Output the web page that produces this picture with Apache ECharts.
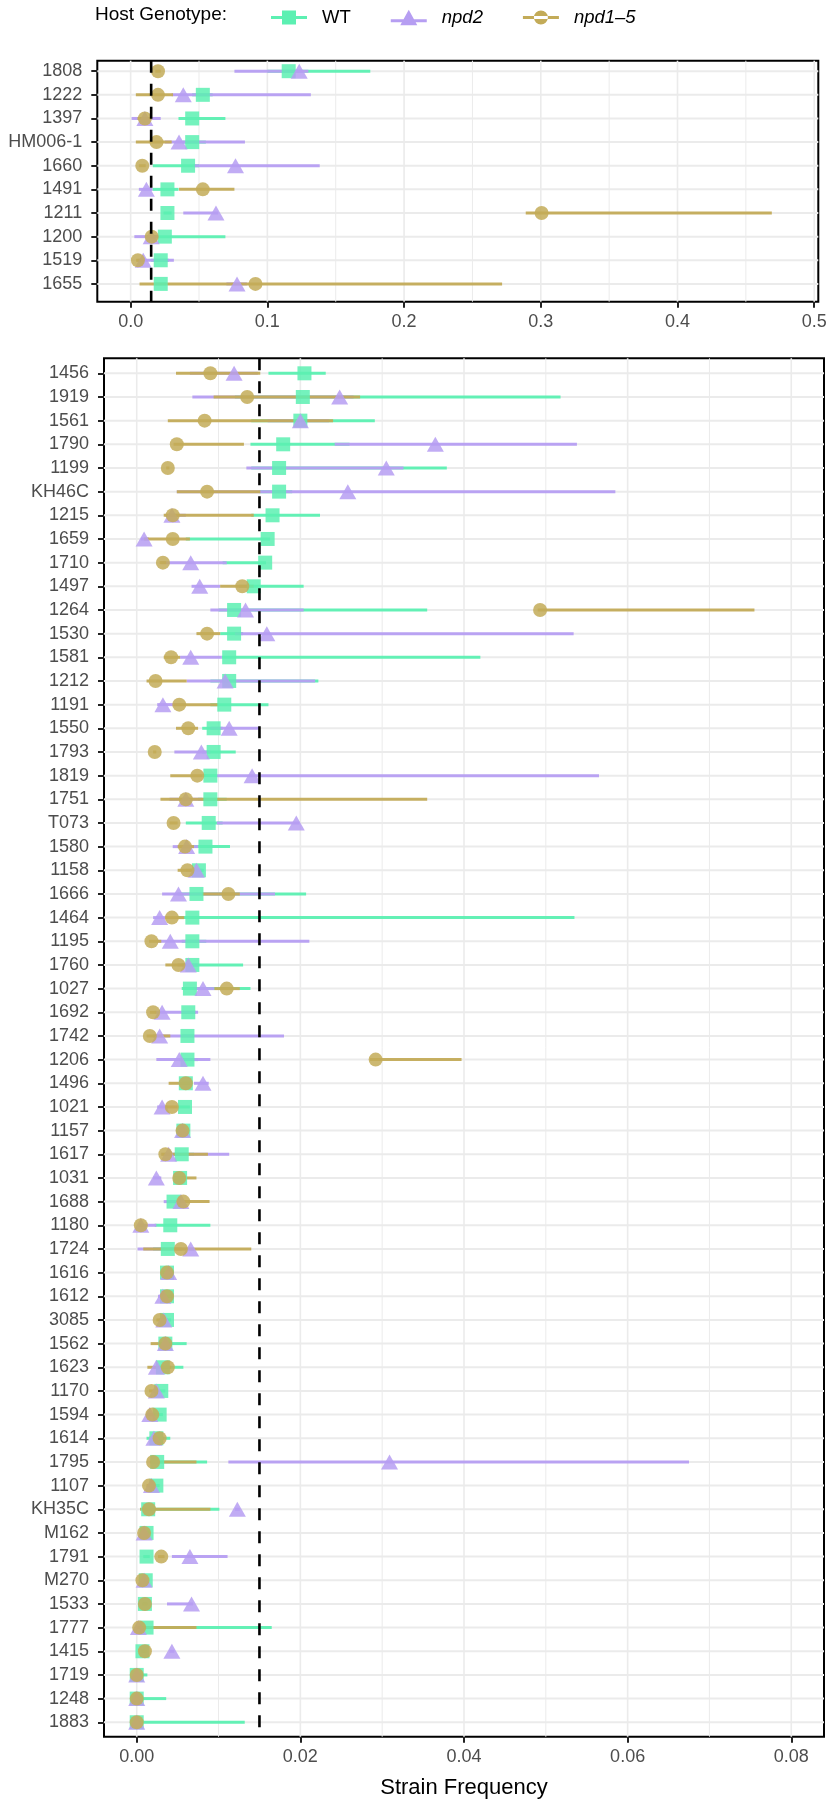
<!DOCTYPE html>
<html>
<head>
<meta charset="utf-8">
<script src="https://cdn.jsdelivr.net/npm/echarts@6/dist/echarts.min.js"></script>
<style>
html,body{margin:0;padding:0;background:#fff;}
#chart{width:826px;height:1802px;}
</style>
</head>
<body>
<div id="chart"></div>
<script>
// ---------------- DATA ----------------
const genotypes = ['WT', 'npd2', 'npd1–5'];
const thresholdValue = 0.015;

// Top panel
const topCats = ['1808','1222','1397','HM006-1','1660','1491','1211','1200','1519','1655'];
const topWT     = [0.1156, 0.0528, 0.045, 0.045, 0.042, 0.0269, 0.0269, 0.025, 0.022, 0.022];
const topWTLo   = [0.100, 0.045, 0.035, 0.038, 0.0162, 0.016, 0.024, 0.015, 0.015, 0.018];
const topWTHi   = [0.1753, 0.060, 0.0693, 0.055, 0.050, 0.035, 0.030, 0.0693, 0.028, 0.026];
const topNpd2   = [0.1233, 0.0385, 0.0104, 0.0354, 0.0767, 0.0115, 0.0624, 0.015, 0.0092, 0.0778];
const topNpd2Lo = [0.0759, 0.030, 0.0007, 0.025, 0.046, 0.006, 0.0385, 0.0027, 0.005, 0.070];
const topNpd2Hi = [0.130, 0.1318, 0.022, 0.0836, 0.1383, 0.016, 0.064, 0.020, 0.0316, 0.085];
const topNpd15   = [0.020, 0.020, 0.0104, 0.0189, 0.0085, 0.0528, 0.3006, 0.0154, 0.0053, 0.0913];
const topNpd15Lo = [0.018, 0.0038, 0.005, 0.0038, 0.006, 0.0354, 0.289, 0.012, 0.004, 0.0065];
const topNpd15Hi = [0.022, 0.031, 0.015, 0.030, 0.011, 0.0759, 0.469, 0.018, 0.007, 0.2717];
const topTicks = [0, 0.1, 0.2, 0.3, 0.4, 0.5];
const topTickLabels = ['0.0','0.1','0.2','0.3','0.4','0.5'];
const topMinorTicks = [0.05, 0.15, 0.25, 0.35, 0.45];

// Bottom panel
const botCats = ['1456','1919','1561','1790','1199','KH46C','1215','1659','1710','1497',
  '1264','1530','1581','1212','1191','1550','1793','1819','1751','T073',
  '1580','1158','1666','1464','1195','1760','1027','1692','1742','1206',
  '1496','1021','1157','1617','1031','1688','1180','1724','1616','1612',
  '3085','1562','1623','1170','1594','1614','1795','1107','KH35C','M162',
  '1791','M270','1533','1777','1415','1719','1248','1883'];
const botWT = [0.0205,0.0203,0.0200,0.0179,0.0174,0.0174,0.0166,0.0160,0.0157,0.0143,
  0.0119,0.0119,0.0113,0.0113,0.0107,0.0094,0.0094,0.0090,0.0090,0.0088,
  0.0084,0.0076,0.0073,0.0068,0.0068,0.0068,0.0065,0.0063,0.0062,0.0062,
  0.0060,0.0059,0.0057,0.0055,0.0053,0.0045,0.0041,0.0038,0.0037,0.0037,
  0.0037,0.0035,0.0032,0.0030,0.0028,0.0024,0.0025,0.0024,0.0014,0.0012,
  0.0012,0.0011,0.0010,0.0012,0.0007,0.0000,0.0000,0.0000];
const botWTLo = [0.0161,0.0120,0.0140,0.0139,0.0140,0.0150,0.0140,0.0060,0.0105,0.0125,
  0.0100,0.0102,0.0104,0.0090,0.0090,0.0080,0.0080,0.0080,0.0075,0.0060,
  0.0065,0.0065,0.0050,0.0050,0.0055,0.0055,0.0055,0.0055,0.0055,0.0052,
  0.0055,0.0050,0.0050,0.0045,0.0045,0.0040,0.0022,0.0020,0.0030,0.0030,
  0.0030,0.0030,0.0027,0.0025,0.0023,0.0012,0.0020,0.0020,0.0010,0.0008,
  0.0008,0.0008,0.0007,0.0008,0.0005,0.0000,0.0000,0.0000];
const botWTHi = [0.0231,0.0518,0.0291,0.0260,0.0379,0.0190,0.0224,0.0163,0.0158,0.0204,
  0.0355,0.0130,0.0420,0.0222,0.0161,0.0105,0.0121,0.0098,0.0110,0.0105,
  0.0114,0.0082,0.0207,0.0535,0.0085,0.0130,0.0139,0.0072,0.0070,0.0075,
  0.0068,0.0065,0.0062,0.0070,0.0060,0.0055,0.0090,0.0055,0.0045,0.0044,
  0.0042,0.0061,0.0057,0.0035,0.0032,0.0041,0.0086,0.0028,0.0101,0.0016,
  0.0016,0.0014,0.0013,0.0165,0.0010,0.0013,0.0036,0.0132];
const botNpd2 = [0.0119,0.0248,0.0200,0.0365,0.0305,0.0258,0.0043,0.0009,0.0066,0.0077,
  0.0133,0.0159,0.0066,0.0108,0.0032,0.0113,0.0079,0.0141,0.0060,0.0195,
  0.0061,0.0073,0.0051,0.0028,0.0041,0.0063,0.0081,0.0031,0.0028,0.0052,
  0.0081,0.0031,0.0056,0.0039,0.0024,0.0054,0.0005,0.0066,0.0039,0.0032,
  0.0033,0.0035,0.0024,0.0024,0.0016,0.0021,0.0309,0.0018,0.0123,0.0009,
  0.0065,0.0009,0.0067,0.0002,0.0043,0.0000,0.0000,0.0000];
const botNpd2Lo = [0.0065,0.0068,0.0160,0.0242,0.0134,0.0049,0.0035,0.0005,0.0030,0.0067,
  0.0090,0.0120,0.0053,0.0061,0.0025,0.0090,0.0046,0.0098,0.0040,0.0098,
  0.0044,0.0060,0.0031,0.0020,0.0025,0.0050,0.0070,0.0022,0.0020,0.0024,
  0.0070,0.0025,0.0048,0.0030,0.0020,0.0033,0.0002,0.0001,0.0032,0.0026,
  0.0027,0.0030,0.0020,0.0020,0.0012,0.0015,0.0112,0.0014,0.0120,0.0005,
  0.0043,0.0006,0.0037,0.0001,0.0040,0.0000,0.0000,0.0000];
const botNpd2Hi = [0.0148,0.0265,0.0235,0.0538,0.0326,0.0585,0.0060,0.0015,0.0110,0.0102,
  0.0204,0.0534,0.0104,0.0218,0.0060,0.0150,0.0090,0.0565,0.0080,0.0199,
  0.0075,0.0080,0.0169,0.0035,0.0211,0.0075,0.0095,0.0075,0.0180,0.0090,
  0.0088,0.0038,0.0060,0.0113,0.0030,0.0060,0.0024,0.0070,0.0045,0.0038,
  0.0038,0.0040,0.0030,0.0028,0.0020,0.0027,0.0675,0.0022,0.0126,0.0013,
  0.0111,0.0012,0.0069,0.0004,0.0046,0.0003,0.0003,0.0003];
const botNpd15 = [0.0090,0.0135,0.0083,0.0049,0.0038,0.0086,0.0044,0.0044,0.0032,0.0129,
  0.0493,0.0086,0.0042,0.0023,0.0052,0.0063,0.0022,0.0074,0.0060,0.0045,
  0.0059,0.0062,0.0112,0.0043,0.0018,0.0051,0.0110,0.0020,0.0016,0.0292,
  0.0060,0.0043,0.0056,0.0035,0.0052,0.0057,0.0005,0.0054,0.0037,0.0037,
  0.0028,0.0035,0.0038,0.0018,0.0019,0.0028,0.0020,0.0015,0.0015,0.0009,
  0.0030,0.0007,0.0010,0.0003,0.0010,0.0000,0.0000,0.0000];
const botNpd15Lo = [0.0048,0.0094,0.0038,0.0045,0.0036,0.0049,0.0033,0.0009,0.0028,0.0102,
  0.0490,0.0073,0.0033,0.0012,0.0045,0.0048,0.0020,0.0041,0.0029,0.0040,
  0.0050,0.0050,0.0080,0.0035,0.0015,0.0035,0.0095,0.0016,0.0012,0.0285,
  0.0039,0.0035,0.0050,0.0030,0.0045,0.0050,0.0003,0.0008,0.0030,0.0030,
  0.0024,0.0017,0.0013,0.0015,0.0015,0.0022,0.0016,0.0012,0.0004,0.0006,
  0.0026,0.0005,0.0007,0.0001,0.0007,0.0000,0.0000,0.0000];
const botNpd15Hi = [0.0151,0.0273,0.0240,0.0131,0.0040,0.0151,0.0143,0.0065,0.0036,0.0143,
  0.0755,0.0102,0.0053,0.0061,0.0100,0.0075,0.0024,0.0080,0.0355,0.0050,
  0.0070,0.0068,0.0126,0.0058,0.0030,0.0060,0.0126,0.0024,0.0041,0.0397,
  0.0065,0.0050,0.0060,0.0087,0.0073,0.0089,0.0008,0.0140,0.0043,0.0043,
  0.0032,0.0040,0.0042,0.0022,0.0023,0.0033,0.0073,0.0019,0.0090,0.0012,
  0.0034,0.0009,0.0013,0.0073,0.0013,0.0003,0.0003,0.0003];
const botTicks = [0, 0.02, 0.04, 0.06, 0.08];
const botTickLabels = ['0.00','0.02','0.04','0.06','0.08'];
const botMinorTicks = [0.01, 0.03, 0.05, 0.07];

// ---------------- STYLE ----------------
const FONT = 'Liberation Sans, Arial, Helvetica, sans-serif';
const colors = ['#5CF0B2', '#B69EF2', '#C3AB58'];
const symbols = ['rect', 'triangle', 'circle'];
const symbolSizes = [14, [17, 15], 14];
const LABEL_COLOR = '#4D4D4D';

const panels = [
  {cats: topCats, vals: [topWT, topNpd2, topNpd15], lo: [topWTLo, topNpd2Lo, topNpd15Lo],
   hi: [topWTHi, topNpd2Hi, topNpd15Hi], ticks: topTicks, tickLabels: topTickLabels, minor: topMinorTicks},
  {cats: botCats, vals: [botWT, botNpd2, botNpd15], lo: [botWTLo, botNpd2Lo, botNpd15Lo],
   hi: [botWTHi, botNpd2Hi, botNpd15Hi], ticks: botTicks, tickLabels: botTickLabels, minor: botMinorTicks}
];

const grids = [
  {left: 97.3, top: 60.7, width: 721, height: 241, show: true, borderColor: '#000', borderWidth: 2, outerBoundsMode: 'none', containLabel: false},
  {left: 104, top: 358.3, width: 720, height: 1378.4, show: true, borderColor: '#000', borderWidth: 2, outerBoundsMode: 'none', containLabel: false}
];

const xRanges = [[-0.0244, 0.503], [-0.0040, 0.0840]];
const yRanges = [[-0.444, 9.753], [-0.634, 57.61]];

const xAxes = panels.map((p, k) => ({
  gridIndex: k, type: 'value', position: 'bottom', min: xRanges[k][0], max: xRanges[k][1],
  axisLine: {show: false, onZero: false},
  axisTick: {show: true, customValues: p.ticks, length: 6, lineStyle: {color: '#222', width: 2}},
  axisLabel: {show: true, customValues: p.ticks, margin: 11, color: LABEL_COLOR, fontSize: 18, fontFamily: FONT,
    formatter: v => { const i = p.ticks.findIndex(t => Math.abs(t - v) < 1e-9); return i >= 0 ? p.tickLabels[i] : ''; }},
  splitLine: {show: false},
  name: k === 1 ? 'Strain Frequency' : '',
  nameLocation: 'middle', nameGap: 40,
  nameTextStyle: {fontSize: 22, color: '#000', fontFamily: FONT}
}));

const yAxes = panels.map((p, k) => ({
  gridIndex: k, type: 'value', position: 'left', inverse: true, min: yRanges[k][0], max: yRanges[k][1],
  axisLine: {show: false, onZero: false},
  axisTick: {show: true, customValues: p.cats.map((c, i) => i), length: 6, lineStyle: {color: '#222', width: 2}},
  axisLabel: {show: true, customValues: p.cats.map((c, i) => i), margin: 15, color: LABEL_COLOR, fontSize: 18, fontFamily: FONT,
    formatter: v => p.cats[Math.round(v)] || ''},
  splitLine: {show: false}
}));

const series = [];
panels.forEach((p, k) => {
  // horizontal grid lines at categories
  series.push({
    type: 'custom', name: 'hgrid' + k, xAxisIndex: k, yAxisIndex: k, silent: true, z: 1,
    data: p.cats.map((c, i) => [0, i]),
    encode: {x: 0, y: 1},
    renderItem: (params, api) => {
      const cs = params.coordSys;
      const y = api.coord([0, api.value(1)])[1];
      return {type: 'line', shape: {x1: cs.x, y1: y, x2: cs.x + cs.width, y2: y},
        style: {stroke: '#EBEBEB', lineWidth: 2}};
    }
  });
  // vertical grid lines (major + minor)
  const vlines = p.ticks.map(t => [t, 2]).concat(p.minor.map(t => [t, 1]));
  series.push({
    type: 'custom', name: 'vgrid' + k, xAxisIndex: k, yAxisIndex: k, silent: true, z: 1,
    data: vlines,
    encode: {x: 0},
    renderItem: (params, api) => {
      const cs = params.coordSys;
      const x = api.coord([api.value(0), 0])[0];
      return {type: 'line', shape: {x1: x, y1: cs.y, x2: x, y2: cs.y + cs.height},
        style: {stroke: '#EBEBEB', lineWidth: api.value(1) > 1 ? 1.6 : 1}};
    }
  });
  // error ranges
  genotypes.forEach((g, j) => {
    series.push({
      type: 'custom', name: g, xAxisIndex: k, yAxisIndex: k, silent: true, z: 2,
      itemStyle: {color: colors[j]},
      data: p.lo[j].map((l, i) => [l, p.hi[j][i], i]),
      encode: {x: [0, 1], y: 2},
      renderItem: (params, api) => {
        const y = api.value(2);
        const a = api.coord([api.value(0), y]);
        const b = api.coord([api.value(1), y]);
        return {type: 'line', shape: {x1: a[0], y1: a[1], x2: b[0], y2: b[1]},
          style: {stroke: colors[j], lineWidth: 3, opacity: 0.95}};
      }
    });
  });
  // points
  genotypes.forEach((g, j) => {
    series.push({
      type: 'scatter', name: g, xAxisIndex: k, yAxisIndex: k, z: 3,
      symbol: symbols[j], symbolSize: symbolSizes[j],
      itemStyle: {color: colors[j], opacity: 0.85},
      data: p.vals[j].map((v, i) => [v, i])
    });
  });
  // threshold dashed line
  series.push({
    type: 'custom', name: 'threshold' + k, xAxisIndex: k, yAxisIndex: k, silent: true, z: 4,
    data: [[thresholdValue]],
    encode: {x: 0},
    renderItem: (params, api) => {
      const cs = params.coordSys;
      const x = api.coord([api.value(0), 0])[0];
      return {type: 'line', shape: {x1: x, y1: cs.y, x2: x, y2: cs.y + cs.height},
        style: {stroke: '#000', lineWidth: 2.6, lineDash: [12, 11]}};
    }
  });
});

const legendIcons = [
  'path://M0,7H36V10H0Z M11,1.5H25V15.5H11Z',
  'path://M0,9.5H36V12.5H0Z M18,0L26.5,15.5H9.5Z',
  'path://M0,7H36V10H0Z M11,8.5A7,7 0 1 0 25,8.5A7,7 0 1 0 11,8.5Z'
];

const option = {
  animation: false,
  backgroundColor: '#fff',
  title: {
    text: 'Host Genotype:', left: 95, top: 5, padding: 0,
    textStyle: {fontSize: 19, fontWeight: 'normal', color: '#000', fontFamily: FONT}
  },
  legend: {
    left: 271, top: 8, padding: 0, itemWidth: 36, itemHeight: 16, itemGap: 40,
    selectedMode: false,
    data: genotypes.map((g, j) => ({name: g, icon: legendIcons[j], itemStyle: {color: colors[j]}})),
    formatter: n => n === 'WT' ? n : '{it|' + n + '}',
    textStyle: {fontSize: 18.5, color: '#000', fontFamily: FONT, padding: [0, 0, 0, 10],
      rich: {it: {fontStyle: 'italic', fontSize: 18.5, color: '#000', fontFamily: FONT}}}
  },
  grid: grids,
  xAxis: xAxes,
  yAxis: yAxes,
  series: series
};

const chart = echarts.init(document.getElementById('chart'), null, {renderer: 'canvas'});
chart.setOption(option);
</script>
</body>
</html>
